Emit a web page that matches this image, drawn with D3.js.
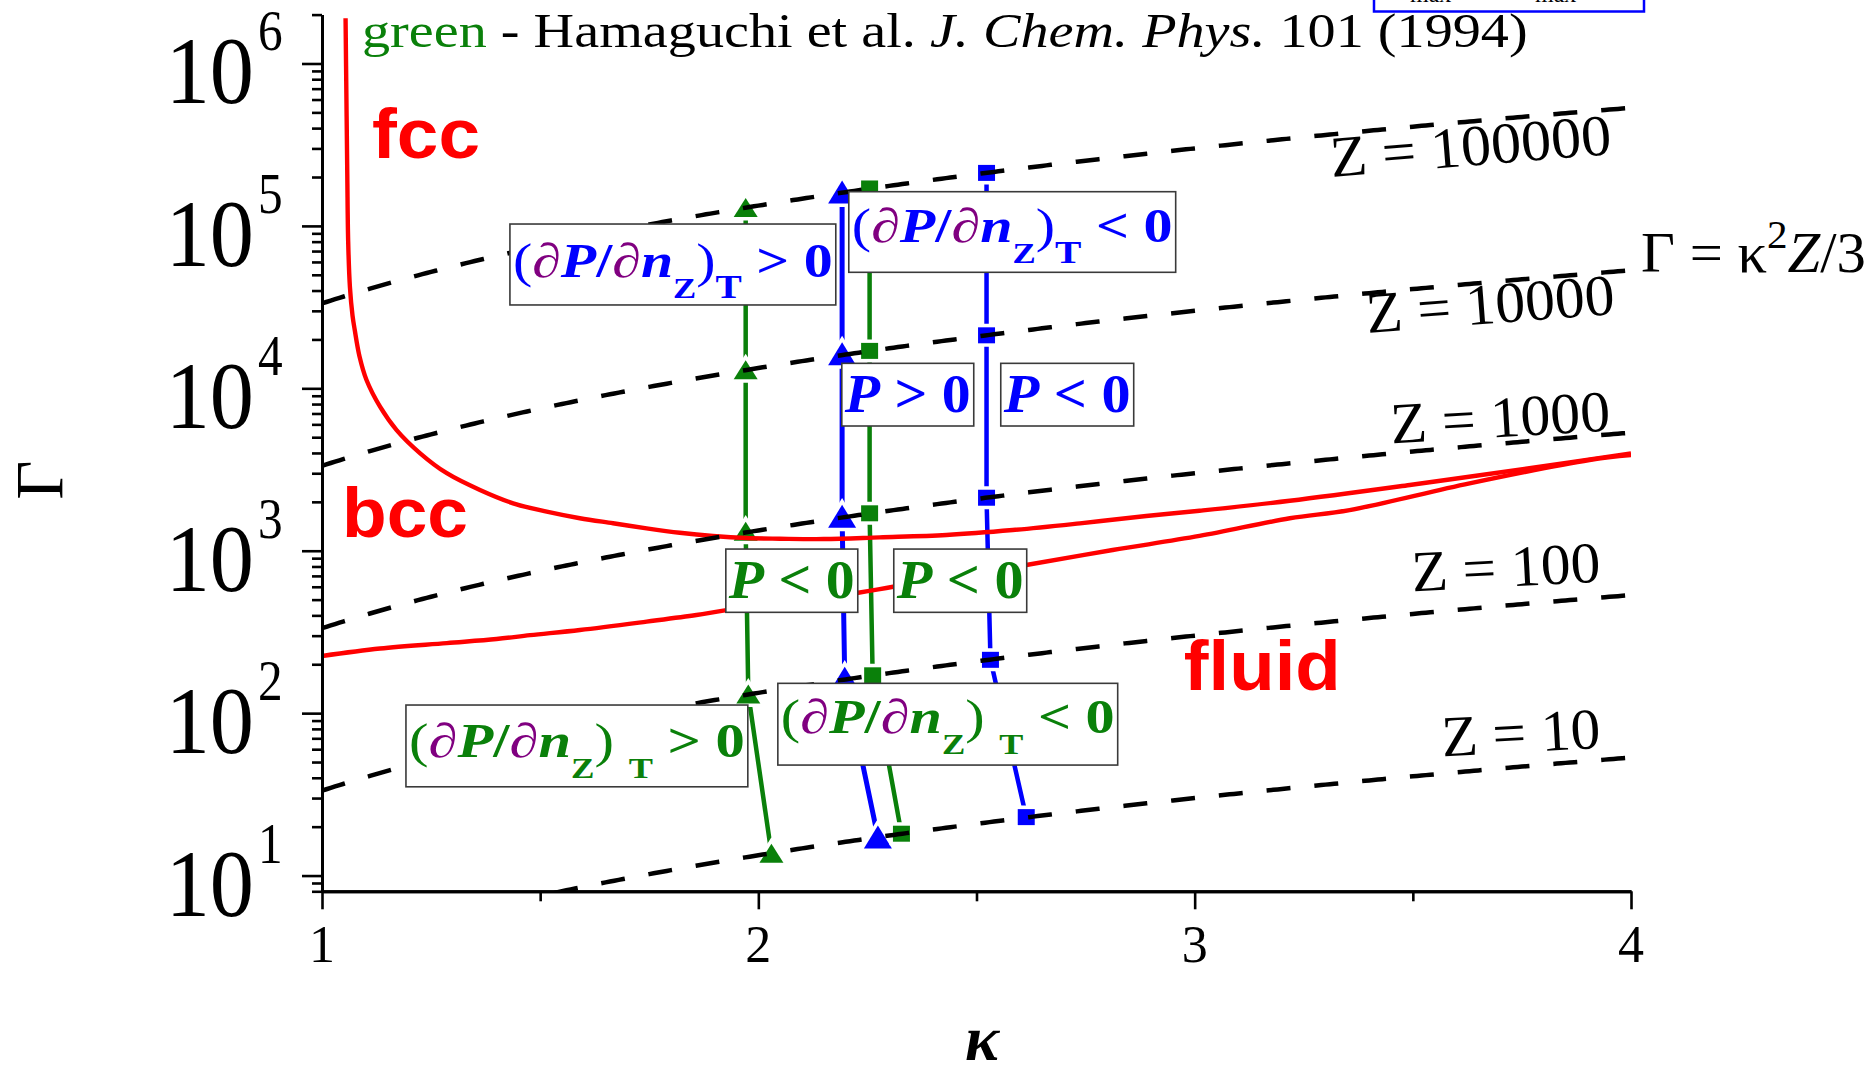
<!DOCTYPE html>
<html>
<head>
<meta charset="utf-8">
<script src="https://cdn.jsdelivr.net/npm/d3@7"></script>
<style>
  html, body { margin: 0; padding: 0; background: #fff; overflow: hidden; }
  svg { display: block; }
  svg text { white-space: pre; }
</style>
</head>
<body>
<svg id="chart" width="1871" height="1068"></svg>
<script>
// ---------- data ----------
const kappaDomain = [1, 4];
const gammaDomain = [8, 2e6];
const kappaMajorTicks = [1, 2, 3, 4];
const kappaMinorTicks = [1.5, 2.5, 3.5];
const gammaExponents = [1, 2, 3, 4, 5, 6];

// iso-charge lines  Γ = κ²Z/3
const zValues = [10, 100, 1000, 10000, 100000];
const zLabels = ["Z = 10", "Z = 100", "Z = 1000", "Z = 10000", "Z = 100000"];

// fcc–bcc boundary (continues as upper melting branch)
const fccBccKappa = [1.054, 1.056, 1.058, 1.060, 1.064, 1.070, 1.075, 1.086, 1.102, 1.133, 1.171, 1.225,
  1.286, 1.362, 1.438, 1.515, 1.591, 1.667, 1.744, 1.820, 1.896, 1.973, 2.049, 2.150, 2.278,
  2.431, 2.583, 2.737, 2.889, 3.011, 3.218, 3.493, 3.767, 4.000];
const fccBccGamma = [1.9e6, 6e5, 2e5, 8e4, 4.2e4, 2.8e4, 2.29e4, 1.57e4, 1.125e4, 7710, 5530, 3980,
  3000, 2365, 1958, 1740, 1585, 1476, 1374, 1291, 1233, 1197, 1186, 1180, 1209,
  1250, 1341, 1475, 1636, 1763, 2030, 2540, 3220, 3980];

// fluid–solid melting line
const meltKappa = [1.000, 1.133, 1.286, 1.400, 1.477, 1.591, 1.744, 1.858, 1.927, 2.229, 2.309,
  2.614, 2.812, 3.011, 3.218, 3.355, 3.630, 3.905, 4.000];
const meltGamma = [225, 250, 270, 286, 302, 325, 366, 402, 431, 551, 600,
  817, 1010, 1233, 1585, 1780, 2600, 3620, 3880];

// state points along the iso-Z lines
const greenTriKappa = [1.971, 1.971, 1.971, 1.977, 2.030];
const greenTriGamma = [1.30e5, 1.30e4, 1.32e3, 131, 13.7];
const blueTriKappa  = [2.192, 2.192, 2.192, 2.198, 2.274];
const blueTriGamma  = [1.62e5, 1.63e4, 1.63e3, 164, 17.3];
const greenSqKappa  = [2.255, 2.255, 2.255, 2.262, 2.328];
const greenSqGamma  = [1.70e5, 1.70e4, 1.70e3, 171, 18.1];
const blueSqKappa   = [2.523, 2.523, 2.523, 2.532, 2.614];
const blueSqGamma   = [2.12e5, 2.12e4, 2.12e3, 213, 22.9];

// ---------- styling ----------
const BLUE = "#0000ff", GREEN = "#0a800a", PURPLE = "#800080", RED = "#ff0000";
const SERIF = '"Liberation Serif", "Times New Roman", Times, serif';
const SANS = '"Liberation Sans", Arial, Helvetica, sans-serif';

const svg = d3.select("#chart");
const x = d3.scaleLinear().domain(kappaDomain).range([322, 1631]);
const y = d3.scaleLog().domain(gammaDomain).range([891.3, 14.6]);

svg.append("defs").append("clipPath").attr("id", "plotClip")
  .append("rect")
  .attr("x", x(kappaDomain[0])).attr("y", y(gammaDomain[1]))
  .attr("width", x(kappaDomain[1]) - x(kappaDomain[0]))
  .attr("height", y(gammaDomain[0]) - y(gammaDomain[1]));

// plain serif text element
function serifText(parent) {
  return parent.append("text").style("font-family", SERIF);
}
// rich text helper: parts = [{t, fill, bold, italic, size (em factor), shift (em)}]
function richText(parent, parts, baseSize, family) {
  const t = parent.append("text").style("font-family", family || SERIF).attr("font-size", baseSize);
  let cur = 0;
  parts.forEach(p => {
    const off = (p.shift || 0) * baseSize;
    t.append("tspan")
      .attr("dy", off - cur)
      .attr("font-size", (p.size || 1) * baseSize)
      .attr("font-weight", p.bold ? "bold" : "normal")
      .attr("font-style", p.italic ? "italic" : "normal")
      .attr("fill", p.fill || "#000")
      .text(p.t);
    cur = off;
  });
  return t;
}
// squeeze/stretch a text horizontally to a given width, anchored at its start
function fitAt(t, px, py, width, angle) {
  const w = t.node().getComputedTextLength();
  const s = width / w;
  t.attr("transform", `translate(${px},${py}) rotate(${angle || 0}) scale(${s},1)`);
  return t;
}

// ---------- iso-Z labels (under the dashes) ----------
const zLabelAnchors = [
  { k: 3.568, g: 54.1,   w: 159, a: -3.1 },
  { k: 3.499, g: 561,    w: 189, a: -3.0 },
  { k: 3.451, g: 4571,   w: 220, a: -3.4 },
  { k: 3.396, g: 21900,  w: 249, a: -4.4 },
  { k: 3.314, g: 2.0e5,  w: 282, a: -4.7 }
];
const zLabelG = svg.append("g");
zLabels.forEach((lab, i) => {
  const an = zLabelAnchors[i];
  const t = richText(zLabelG, [{ t: lab }], 58);
  fitAt(t, x(an.k), y(an.g), an.w, an.a);
});

// ---------- state-point series ----------
const series = [
  { k: greenTriKappa, g: greenTriGamma, color: GREEN, shape: "tri", w: 24, h: 19, lw: 4.5 },
  { k: blueTriKappa,  g: blueTriGamma,  color: BLUE,  shape: "tri", w: 28, h: 23, lw: 5 },
  { k: greenSqKappa,  g: greenSqGamma,  color: GREEN, shape: "sq",  w: 17, h: 16, lw: 4.5 },
  { k: blueSqKappa,   g: blueSqGamma,   color: BLUE,  shape: "sq",  w: 17, h: 16, lw: 4.5 }
];
const seriesG = svg.append("g");
const lineGen = d3.line().x(d => x(d[0])).y(d => y(d[1]));
series.forEach(s => {
  const pts = s.k.map((k, i) => [k, s.g[i]]);
  seriesG.append("path").attr("d", lineGen(pts))
    .attr("fill", "none").attr("stroke", s.color).attr("stroke-width", s.lw);
});
series.forEach(s => {
  const pts = s.k.map((k, i) => [k, s.g[i]]);
  seriesG.selectAll(null).data(pts).enter().append("path")
    .attr("transform", d => `translate(${x(d[0])},${y(d[1])})`)
    .attr("d", s.shape === "tri"
      ? `M0,${-s.h / 2}L${s.w / 2},${s.h / 2}L${-s.w / 2},${s.h / 2}Z`
      : `M${-s.w / 2},${-s.h / 2}h${s.w}v${s.h}h${-s.w}Z`)
    .attr("fill", s.color)
    .attr("stroke", "#fff").attr("stroke-width", 7)
    .attr("paint-order", "stroke");
});

// ---------- phase boundaries ----------
const curveGen = d3.line().x(d => x(d[0])).y(d => y(d[1])).curve(d3.curveCatmullRom.alpha(0.5));
const phaseG = svg.append("g").attr("clip-path", "url(#plotClip)");
[[fccBccKappa, fccBccGamma], [meltKappa, meltGamma]].forEach(([ks, gs]) => {
  phaseG.append("path").attr("d", curveGen(ks.map((k, i) => [k, gs[i]])))
    .attr("fill", "none").attr("stroke", RED).attr("stroke-width", 4.4)
    .attr("stroke-linejoin", "round");
});

// ---------- iso-Z dashed lines ----------
const kSamples = d3.range(0, 301).map(i => kappaDomain[0] + i * (kappaDomain[1] - kappaDomain[0]) / 300);
const isoG = svg.append("g").attr("clip-path", "url(#plotClip)");
zValues.forEach(z => {
  isoG.append("path")
    .attr("d", lineGen(kSamples.map(k => [k, k * k * z / 3])))
    .attr("fill", "none").attr("stroke", "#000").attr("stroke-width", 4.5)
    .attr("stroke-dasharray", "24 24").attr("stroke-linecap", "butt");
});

// ---------- annotation boxes ----------
function derivParts(col, rel, spaced) {
  const p = [
    { t: "(", fill: col },
    { t: "\u2202", fill: PURPLE },
    { t: "P", fill: col, bold: true, italic: true },
    { t: "/", fill: col, bold: true },
    { t: "\u2202", fill: PURPLE },
    { t: "n", fill: col, bold: true, italic: true },
    { t: "Z", fill: col, bold: true, size: 0.6, shift: 0.44 },
    { t: ")", fill: col, shift: 0 }
  ];
  if (spaced) p.push({ t: " ", fill: col });
  p.push({ t: "T", fill: col, bold: true, size: spaced ? 0.62 : 0.68, shift: 0.44 });
  p.push({ t: " " + rel + " 0", fill: col, bold: true, shift: 0 });
  return p;
}
function pParts(col, rel) {
  return [{ t: "P", fill: col, bold: true, italic: true }, { t: " " + rel + " 0", fill: col, bold: true }];
}
const boxes = [
  { k0: 1.4307, k1: 2.1775, g0: 1.027e5, g1: 3.26e4, parts: derivParts(BLUE, ">", false), size: 48, base: 53 },
  { k0: 2.2073, k1: 2.9565, g0: 1.624e5, g1: 5.18e4, parts: derivParts(BLUE, "<", false), size: 48, base: 50 },
  { k0: 2.1913, k1: 2.4937, g0: 14250, g1: 5861, parts: pParts(BLUE, ">"), size: 54, base: 48.5 },
  { k0: 2.5556, k1: 2.8603, g0: 14250, g1: 5861, parts: pParts(BLUE, "<"), size: 54, base: 48.5 },
  { k0: 1.9255, k1: 2.2279, g0: 1024, g1: 417.6, parts: pParts(GREEN, "<"), size: 54, base: 49.3 },
  { k0: 2.3104, k1: 2.6151, g0: 1024, g1: 417.6, parts: pParts(GREEN, "<"), size: 54, base: 49.3 },
  { k0: 2.0447, k1: 2.8236, g0: 152.6, g1: 47.9, parts: derivParts(GREEN, "<", true), size: 48, base: 50 },
  { k0: 1.1924, k1: 1.9759, g0: 112.2, g1: 35.2, parts: derivParts(GREEN, ">", true), size: 48, base: 51.7 }
];
const boxG = svg.append("g");
boxes.forEach(b => {
  const bx = x(b.k0), by = y(b.g0), bw = x(b.k1) - x(b.k0), bh = y(b.g1) - y(b.g0);
  boxG.append("rect").attr("x", bx).attr("y", by).attr("width", bw).attr("height", bh)
    .attr("fill", "#fff").attr("stroke", "#3a3a3a").attr("stroke-width", 1.6);
  const t = richText(boxG, b.parts, b.size);
  fitAt(t, bx + 3, by + b.base, bw - 6);
});

// ---------- phase names ----------
const phaseNames = [
  { t: "fcc",   k: 1.1145, g: 2.62e5, w: 108 },
  { t: "bcc",   k: 1.0458, g: 1223,   w: 126 },
  { t: "fluid", k: 2.975,  g: 138.8,  w: 157 }
];
phaseNames.forEach(p => {
  const t = richText(svg, [{ t: p.t, fill: RED, bold: true }], 70, SANS);
  fitAt(t, x(p.k), y(p.g), p.w);
});

// ---------- axes ----------
const yMinor = [];
for (let e = 0; e <= 6; e++) {
  for (let m = 2; m <= 9; m++) {
    const v = m * Math.pow(10, e);
    if (v >= gammaDomain[0] && v <= gammaDomain[1]) yMinor.push(v);
  }
}
const yMajor = gammaExponents.map(e => Math.pow(10, e));
function styleAxis(g, width) {
  g.select(".domain").attr("stroke", "#000").attr("stroke-width", 3);
  g.selectAll(".tick line").attr("stroke", "#000").attr("stroke-width", width);
}
const xAxisY = y(gammaDomain[0]);
svg.append("g").attr("transform", `translate(0,${xAxisY})`)
  .call(d3.axisBottom(x).tickValues(kappaMinorTicks).tickSize(10).tickSizeOuter(0).tickFormat(""))
  .call(g => styleAxis(g, 2.6));
svg.append("g").attr("transform", `translate(0,${xAxisY})`)
  .call(d3.axisBottom(x).tickValues(kappaMajorTicks).tickSize(18).tickSizeOuter(0).tickFormat(""))
  .call(g => styleAxis(g, 2.6));
svg.append("g").attr("transform", `translate(${x(kappaDomain[0])},0)`)
  .call(d3.axisLeft(y).tickValues(yMinor).tickSize(10).tickSizeOuter(0).tickFormat(""))
  .call(g => styleAxis(g, 2.6));
svg.append("g").attr("transform", `translate(${x(kappaDomain[0])},0)`)
  .call(d3.axisLeft(y).tickValues(yMajor).tickSize(20).tickSizeOuter(0).tickFormat(""))
  .call(g => styleAxis(g, 2.6));

// tick labels
kappaMajorTicks.forEach(k => {
  serifText(svg).attr("x", x(k)).attr("y", 962).attr("text-anchor", "middle")
    .attr("font-size", 52).attr("fill", "#000").text(k);
});
gammaExponents.forEach(e => {
  const yy = y(Math.pow(10, e));
  serifText(svg).attr("text-anchor", "end").attr("font-size", 96).attr("fill", "#000")
    .attr("transform", `translate(254,${yy + 40}) scale(0.92,1)`).text("10");
  serifText(svg).attr("font-size", 56).attr("fill", "#000")
    .attr("transform", `translate(258,${yy - 13}) scale(0.88,1)`).text(e);
});

// axis titles
serifText(svg).attr("font-size", 68).attr("fill", "#000").attr("text-anchor", "middle")
  .attr("transform", "translate(62,480) rotate(-90)").text("\u0393");
serifText(svg).attr("font-size", 64).attr("font-weight", "bold").attr("font-style", "italic")
  .attr("fill", "#000").attr("text-anchor", "middle").attr("x", 982).attr("y", 1060).text("\u03ba");

// relation label
fitAt(richText(svg, [
  { t: "\u0393 = \u03ba" },
  { t: "2", size: 0.7, shift: -0.42 },
  { t: "Z", italic: true, shift: 0 },
  { t: "/3" }
], 56), 1641, 272, 225);

// source note
fitAt(richText(svg, [
  { t: "green", fill: GREEN },
  { t: " - Hamaguchi et al. " },
  { t: "J. Chem. Phys.", italic: true },
  { t: " 101 (1994)" }
], 48), 362, 47, 1166);

// boxed note running off the top edge
svg.append("rect").attr("x", 1374).attr("y", -30).attr("width", 270).attr("height", 41.5)
  .attr("fill", "#fff").attr("stroke", BLUE).attr("stroke-width", 2.5);
[1410, 1535].forEach(px => {
  serifText(svg).attr("x", px).attr("y", 2).attr("font-size", 24).attr("fill", "#000").text("max");
});
</script>
</body>
</html>
